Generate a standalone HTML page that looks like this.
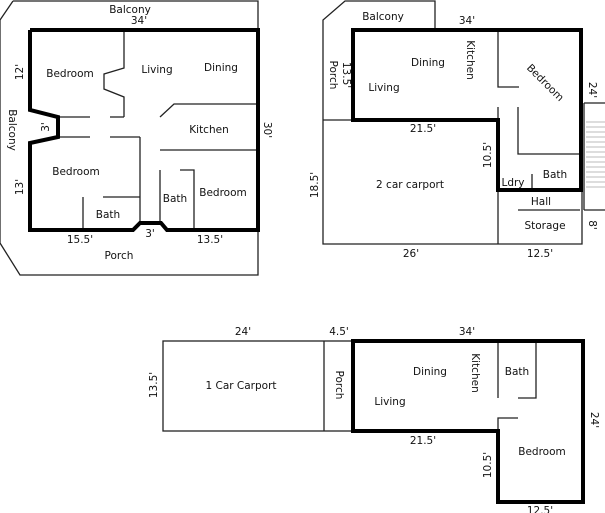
<!DOCTYPE html>
<html><head><meta charset="utf-8"><style>
html,body{margin:0;padding:0;background:#fff;width:605px;height:513px;overflow:hidden}
svg text{font-family:"DejaVu Sans","Liberation Sans",sans-serif;font-size:10.5px;fill:#111;text-anchor:middle;dominant-baseline:middle}
</style></head><body>
<svg width="605" height="513" viewBox="0 0 605 513" xmlns="http://www.w3.org/2000/svg">
<g fill="none" stroke="#222" stroke-width="1.3">
<polyline points="13,1 258,1 258,275 20,275 0,243 0,20 13,1"/>
<polyline points="124,30 124,68 104,74 104,89 124,97 124,117"/>
<line x1="58" y1="117" x2="90" y2="117"/><line x1="110" y1="117" x2="124" y2="117"/>
<line x1="58" y1="137" x2="90" y2="137"/><line x1="110" y1="137" x2="140" y2="137"/>
<line x1="140" y1="137" x2="140" y2="223"/>
<polyline points="160,117 174,104 256,104"/>
<line x1="160" y1="150" x2="256" y2="150"/>
<line x1="160" y1="170" x2="160" y2="223"/>
<polyline points="180,170 194,170 194,230"/>
<line x1="83" y1="197" x2="83" y2="230"/><line x1="103" y1="197" x2="140" y2="197"/>
<polyline points="435,29 435,1 345,1 323,20 323,244 582,244 582,190"/>
<line x1="323" y1="120" x2="353" y2="120"/>
<line x1="498" y1="190" x2="498" y2="244"/>
<line x1="518" y1="210" x2="580" y2="210"/>
<polyline points="498,30 498,87 519,87"/>
<line x1="498" y1="107" x2="498" y2="120"/>
<polyline points="518,107 518,154 580,154"/>
<line x1="532" y1="174" x2="532" y2="190"/>
<polyline points="584,103 605,103"/><polyline points="584,210 605,210"/>
<line x1="584" y1="103" x2="584" y2="210"/>
<rect x="163" y="341" width="190" height="90"/>
<line x1="324" y1="341" x2="324" y2="431"/>
<line x1="498" y1="341" x2="498" y2="398"/>
<polyline points="536,341 536,398 518,398"/>
<polyline points="518,418 498,418 498,431"/>
</g>
<g stroke="#bbb" stroke-width="1">
<line x1="586" y1="122" x2="605" y2="122"/><line x1="586" y1="127" x2="605" y2="127"/><line x1="586" y1="132" x2="605" y2="132"/><line x1="586" y1="137" x2="605" y2="137"/><line x1="586" y1="142" x2="605" y2="142"/><line x1="586" y1="147" x2="605" y2="147"/><line x1="586" y1="152" x2="605" y2="152"/><line x1="586" y1="157" x2="605" y2="157"/><line x1="586" y1="162" x2="605" y2="162"/><line x1="586" y1="167" x2="605" y2="167"/><line x1="586" y1="172" x2="605" y2="172"/><line x1="586" y1="177" x2="605" y2="177"/><line x1="586" y1="182" x2="605" y2="182"/><line x1="586" y1="187" x2="605" y2="187"/>
</g>
<g fill="none" stroke="#000" stroke-width="4" stroke-linejoin="miter">
<polyline points="30,30 258,30 258,230 167,230 161,223 140,223 133,230 30,230 30,143 58,137 58,117 30,110 30,30"/>
<polygon points="353,30 581,30 581,190 498,190 498,120 353,120"/>
<polygon points="353,341 583,341 583,502 498,502 498,431 353,431"/>
</g>
<text x="130" y="10">Balcony</text><text x="139" y="21">34'</text>
<text x="70" y="74">Bedroom</text><text x="157" y="70">Living</text><text x="221" y="68">Dining</text>
<text x="209" y="130">Kitchen</text>
<text transform="translate(267,130) rotate(90)">30'</text>
<text transform="translate(20,72) rotate(-90)">12'</text>
<text transform="translate(12,130) rotate(90)">Balcony</text>
<text transform="translate(46,127) rotate(-90)">3'</text>
<text x="76" y="172">Bedroom</text>
<text transform="translate(20,187) rotate(-90)">13'</text>
<text x="108" y="215">Bath</text><text x="175" y="199">Bath</text><text x="223" y="193">Bedroom</text>
<text x="80" y="240">15.5'</text><text x="150" y="234">3'</text><text x="210" y="240">13.5'</text>
<text x="119" y="256">Porch</text>
<text x="383" y="17">Balcony</text><text x="467" y="21">34'</text>
<text x="428" y="63">Dining</text><text x="384" y="88">Living</text>
<text transform="translate(470,60) rotate(90)">Kitchen</text>
<text transform="translate(333,75) rotate(90)">Porch</text>
<text transform="translate(346,75) rotate(90)">13.5'</text>
<text transform="translate(545,83) rotate(45)">Bedroom</text>
<text transform="translate(592,90) rotate(90)">24'</text>
<text x="423" y="129">21.5'</text>
<text transform="translate(488,155) rotate(-90)">10.5'</text>
<text transform="translate(315,185) rotate(-90)">18.5'</text>
<text x="410" y="185">2 car carport</text>
<text x="513" y="183">Ldry</text><text x="555" y="175">Bath</text>
<text x="541" y="202">Hall</text><text x="545" y="226">Storage</text>
<text transform="translate(592,225) rotate(90)">8'</text>
<text x="411" y="254">26'</text><text x="540" y="254">12.5'</text>
<text x="243" y="332">24'</text><text x="339" y="332">4.5'</text><text x="467" y="332">34'</text>
<text transform="translate(154,385) rotate(-90)">13.5'</text>
<text x="241" y="386">1 Car Carport</text>
<text transform="translate(339,385) rotate(90)">Porch</text>
<text x="430" y="372">Dining</text>
<text transform="translate(475,373) rotate(90)">Kitchen</text>
<text x="517" y="372">Bath</text><text x="390" y="402">Living</text>
<text transform="translate(594,420) rotate(90)">24'</text>
<text x="423" y="441">21.5'</text><text x="542" y="452">Bedroom</text>
<text transform="translate(488,465) rotate(-90)">10.5'</text>
<text x="540" y="511">12.5'</text>
</svg>
</body></html>
